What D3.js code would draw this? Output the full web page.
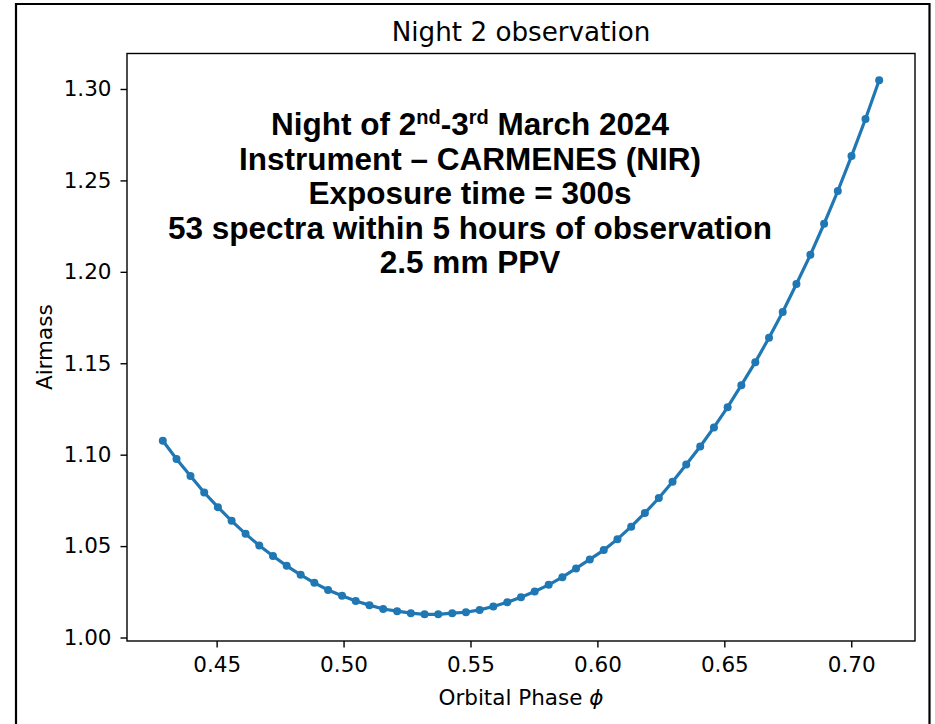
<!DOCTYPE html>
<html lang="en">
	<head>
		<meta charset="utf-8">
		<title>Night 2 airmass</title>
		<script type="text/javascript" src="https://d3js.org/d3.v7.min.js"></script>
		<style type="text/css">
            body{margin:0;background:#fff;}
            svg{display:block;}
            .tick text{font-family:"DejaVu Sans",sans-serif;}
		</style>
	</head>
	<body>
    <div id="chart1"></div>
		<script type="text/javascript">
            // orbital phase of each spectrum (53 exposures)
            var phase = [0.4288,0.4342,0.4397,0.4451,0.4505,0.4559,0.4614,0.4668,0.4722,0.4776,
                         0.4831,0.4885,0.4939,0.4994,0.5048,0.5102,0.5156,0.5211,0.5265,0.5319,
                         0.5373,0.5428,0.5482,0.5536,0.5590,0.5645,0.5699,0.5753,0.5808,0.5862,
                         0.5916,0.5970,0.6025,0.6079,0.6133,0.6187,0.6242,0.6296,0.6350,0.6405,
                         0.6459,0.6513,0.6567,0.6622,0.6676,0.6730,0.6784,0.6839,0.6893,0.6947,
                         0.7001,0.7056,0.7110]
            // airmass
            var airmass = [1.1076,1.0976,1.0883,1.0793,1.0713,1.0638,1.0567,1.0503,1.0446,1.0392,
                           1.0343,1.0299,1.0260,1.0228,1.0200,1.0177,1.0156,1.0144,1.0133,1.0127,
                           1.0127,1.0133,1.0138,1.0151,1.0170,1.0193,1.0220,1.0252,1.0288,1.0330,
                           1.0378,1.0427,1.0478,1.0538,1.0606,1.0681,1.0763,1.0852,1.0946,1.1045,
                           1.1149,1.1260,1.1380,1.1506,1.1639,1.1780,1.1933,1.2093,1.2263,1.2442,
                           1.2633,1.2836,1.3048]
            var xTicks = [0.45,0.50,0.55,0.60,0.65,0.70]
            var yTicks = [1.00,1.05,1.10,1.15,1.20,1.25,1.30]
            var titleText = "Night 2 observation"
            var xLabel = "Orbital Phase "
            var yLabel = "Airmass"
            // each line is a list of [text, kind] pieces, "sup" = superscript
            var infoLines = [
                [["Night of 2",""],["nd","sup"],["-3",""],["rd","sup"],[" March 2024",""]],
                [["Instrument \u2013 CARMENES (NIR)",""]],
                [["Exposure time = 300s",""]],
                [["53 spectra within 5 hours of observation",""]],
                [["2.5 mm PPV",""]]
            ]

            var data = phase.map(function(p,i){ return {x:p, y:airmass[i]} })

            var w = 935
            var h = 724
            var m = {left:127, right:915, top:53.5, bottom:641}

            // matplotlib style 5% margins
            function padded(ext){
                var d = (ext[1]-ext[0])*0.05
                return [ext[0]-d, ext[1]+d]
            }

            var xScale = d3.scaleLinear()
                .domain(padded(d3.extent(phase)))
                .range([m.left,m.right])

            var yScale = d3.scaleLinear()
                .domain(padded(d3.extent(airmass)))
                .range([m.bottom,m.top])

            var svg = d3.select("#chart1")
                        .append("svg")
                        .attr("width",w)
                        .attr("height",h)

            // outer frame
            svg.append("path")
                .attr("d","M16,"+(h+2)+"V4H929.5V"+(h+2))
                .attr("fill","none")
                .attr("stroke","#000")
                .attr("stroke-width",2.2)

            var xAxis = d3.axisBottom(xScale)
                .tickValues(xTicks)
                .tickFormat(d3.format(".2f"))
                .tickSize(6.5)
                .tickPadding(9)

            var yAxis = d3.axisLeft(yScale)
                .tickValues(yTicks)
                .tickFormat(d3.format(".2f"))
                .tickSize(6.5)
                .tickPadding(9)

            svg.append("g")
                .attr("transform","translate(0,"+m.bottom+")")
                .call(xAxis)
                .call(function(g){ g.select(".domain").remove() })
                .selectAll("text")
                .attr("font-size",21.5)
                .attr("fill","#000")

            svg.append("g")
                .attr("transform","translate("+m.left+",0)")
                .call(yAxis)
                .call(function(g){ g.select(".domain").remove() })
                .selectAll("text")
                .attr("font-size",21.5)
                .attr("fill","#000")

            svg.selectAll(".tick line").attr("stroke","#000").attr("stroke-width",1.4)

            // axes box
            svg.append("rect")
                .attr("x",m.left)
                .attr("y",m.top)
                .attr("width",m.right-m.left)
                .attr("height",m.bottom-m.top)
                .attr("fill","none")
                .attr("stroke","#000")
                .attr("stroke-width",1.4)

            var line = d3.line()
                .x(function(d){ return xScale(d.x) })
                .y(function(d){ return yScale(d.y) })

            svg.append("path")
                .datum(data)
                .attr("d",line)
                .attr("fill","none")
                .attr("stroke","#1f77b4")
                .attr("stroke-width",3.2)

            svg.selectAll("circle.pt")
                .data(data)
                .enter()
                .append("circle")
                .attr("class","pt")
                .attr("cx",function(d){ return xScale(d.x) })
                .attr("cy",function(d){ return yScale(d.y) })
                .attr("r",4)
                .attr("fill","#1f77b4")

            // title and labels
            svg.append("text")
                .attr("x",(m.left+m.right)/2)
                .attr("y",40.5)
                .attr("text-anchor","middle")
                .attr("font-family","DejaVu Sans")
                .attr("font-size",26.2)
                .text(titleText)

            var xl = svg.append("text")
                .attr("x",(m.left+m.right)/2)
                .attr("y",705)
                .attr("text-anchor","middle")
                .attr("font-family","DejaVu Sans")
                .attr("font-size",21.5)
                .text(xLabel)
            xl.append("tspan").attr("font-style","italic").text("\u03d5")

            svg.append("text")
                .attr("transform","translate(52,"+((m.top+m.bottom)/2)+") rotate(-90)")
                .attr("text-anchor","middle")
                .attr("font-family","DejaVu Sans")
                .attr("font-size",21.5)
                .text(yLabel)

            // info block
            infoLines.forEach(function(parts,i){
                var t = svg.append("text")
                    .attr("x",470)
                    .attr("y",135+i*34.5)
                    .attr("font-family","Liberation Sans, Arial, sans-serif")
                    .attr("font-weight","bold")
                    .attr("font-size",31.5)
                    .attr("text-anchor","middle")
                    .attr("fill","#000")
                var up = false
                parts.forEach(function(p){
                    var s = t.append("tspan").text(p[0])
                    if(p[1]=="sup"){
                        s.attr("font-size",20).attr("dy",-11)
                        up = true
                    }else if(up){
                        s.attr("dy",11)
                        up = false
                    }
                })
            })
        </script>
	</body>
</html>
